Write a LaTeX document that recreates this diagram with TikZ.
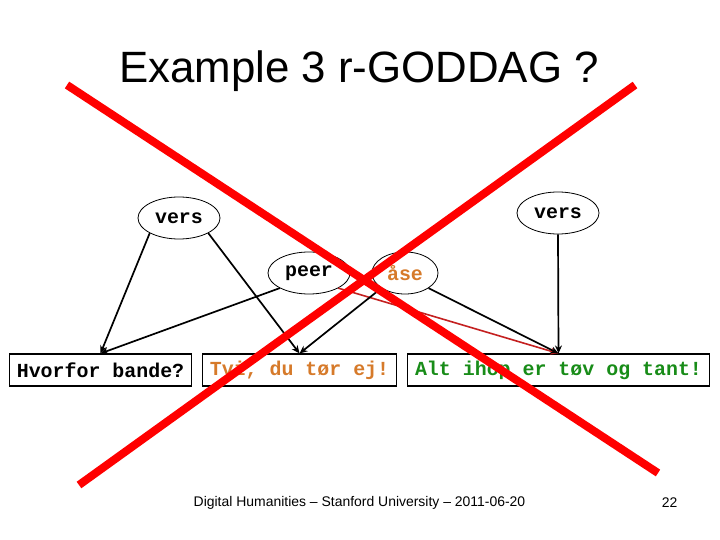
\documentclass[tikz,border=0pt]{standalone}
\usepackage{fontspec}
\setmainfont{Liberation Sans}
\newfontfamily\codefont{Liberation Mono}
\usetikzlibrary{arrows.meta,shapes.geometric}
\definecolor{tagorange}{RGB}{214,122,42}
\definecolor{taggreen}{RGB}{24,140,24}
\definecolor{linkred}{RGB}{196,32,32}
\definecolor{crossred}{RGB}{255,0,0}
\tikzset{
  tag/.style={ellipse, draw, line width=0.8bp, minimum width=82bp, minimum height=42bp, inner sep=0pt, font=\codefont\bfseries\fontsize{20}{24}\selectfont},
  leaf/.style={rectangle, draw, line width=1.1bp, minimum height=32bp, inner xsep=7.5bp, inner ysep=0pt, font=\codefont\bfseries\fontsize{20}{24}\selectfont},
  link/.style={-{Stealth[length=8bp,width=7bp]}, line width=1.7bp},
  cross/.style={crossred, line width=8bp}
}
\begin{document}
\begin{tikzpicture}[x=1bp,y=-1bp]
    \useasboundingbox (0,0) rectangle (720,540);

    % Title
    \node[font=\fontsize{44}{50}\selectfont] (title) at (359,71) {Example 3 r-GODDAG ?};

    % Tags
    \node[tag] (versl) at (179,218) {vers};
    \node[tag] (versr) at (558,213) {vers};
    \node[tag] (peer) at (309,273) {peer};
    \node[tag, minimum width=66bp, text=tagorange] (ase) at (405,273) {åse};

    % Leaves
    \node[leaf] (hvorfor) at (100.5,370) {Hvorfor bande?};
    \node[leaf, text=tagorange] (tvi) at (299.5,370) {Tvi, du tør ej!};
    \node[leaf, text=taggreen] (alt) at (558.5,370) {Alt ihop er tøv og tant!};

    % Links
    \draw[link, linkred, line width=1.6bp] (peer.south east) -- (alt.north);
    \draw[link] (versl.south west) -- (hvorfor.north);
    \draw[link] (versl.south east) -- (tvi.north);
    \draw[link] (peer.south west) -- (hvorfor.north);
    \draw[link] (ase.south west) -- (tvi.north);
    \draw[link] (ase.south east) -- (alt.north);
    \draw[link] (versr.south) -- (alt.north);

    % Crossed out
    \coordinate (xa) at (67,85);
    \coordinate (xb) at (658,473);
    \coordinate (xc) at (635,85);
    \coordinate (xd) at (79,485);
    \draw[cross] (xa) -- (xb);
    \draw[cross] (xc) -- (xd);

    % Footer
    \node[font=\fontsize{14}{16}\selectfont] (footer) at (359.5,503) {Digital Humanities -- Stanford University -- 2011-06-20};
    \node[font=\fontsize{14}{16}\selectfont] (page) at (669.5,503) {22};
\end{tikzpicture}
\end{document}
